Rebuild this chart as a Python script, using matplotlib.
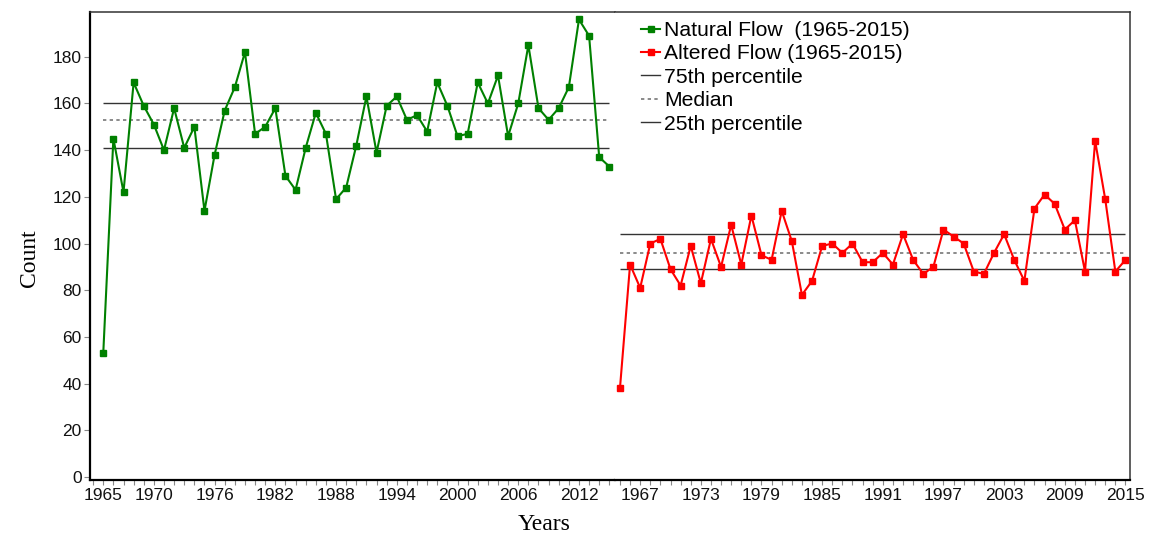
import numpy as np
import matplotlib
matplotlib.use("Agg")
import matplotlib.pyplot as plt
from matplotlib.ticker import FixedLocator, MultipleLocator
from matplotlib.lines import Line2D

plt.rcParams['font.family'] = ['Liberation Sans', 'DejaVu Sans']

years = np.arange(1965, 2016)

natural_flow = [53, 145, 122, 169, 159, 151, 140, 158, 141, 150,
                114, 138, 157, 167, 182, 147, 150, 158, 129, 123,
                141, 156, 147, 119, 124, 142, 163, 139, 159, 163,
                153, 155, 148, 169, 159, 146, 147, 169, 160, 172,
                146, 160, 185, 158, 153, 158, 167, 196, 189, 137,
                133]

altered_flow = [38, 91, 81, 100, 102, 89, 82, 99, 83, 102,
                90, 108, 91, 112, 95, 93, 114, 101, 78, 84,
                99, 100, 96, 100, 92, 92, 96, 91, 104, 93,
                87, 90, 106, 103, 100, 88, 87, 96, 104, 93,
                84, 115, 121, 117, 106, 110, 88, 144, 119, 88,
                93]

# percentile bands (75th, median, 25th)
natural_pct = [160, 153, 141]
altered_pct = [104, 96, 89]

natural_ticks = [1965, 1970, 1976, 1982, 1988, 1994, 2000, 2006, 2012]
altered_ticks = [1967, 1973, 1979, 1985, 1991, 1997, 2003, 2009, 2015]
y_ticks = list(range(0, 181, 20))

W, H = 1153, 551
fig = plt.figure(figsize=(W / 100, H / 100), dpi=100)

x0, xm, x1 = 90, 614.5, 1129.5
ytop, ybot = 12, 480
ax1 = fig.add_axes([x0 / W, 1 - ybot / H, (xm - x0) / W, (ybot - ytop) / H])
ax2 = fig.add_axes([xm / W, 1 - ybot / H, (x1 - xm) / W, (ybot - ytop) / H])

green = '#008000'
red = '#ff0000'
pct_color = '#333333'
med_color = '#777777'
tick_size = 12.5


def panel(ax, values, pct, color, label, xlim, ticks):
    ax.plot(years, values, color=color, lw=1.5, marker='s', ms=4.2,
            mec=color, mfc=color, label=label, zorder=3)
    ax.hlines(pct[0], years[0], years[-1], color=pct_color, lw=1.0, zorder=2)
    ax.hlines(pct[1], years[0], years[-1], color=med_color, lw=1.2,
              linestyles=(0, (2, 2)), zorder=2)
    ax.hlines(pct[2], years[0], years[-1], color=pct_color, lw=1.0, zorder=2)
    ax.set_xlim(*xlim)
    ax.set_ylim(-1.3, 199.2)
    ax.xaxis.set_major_locator(FixedLocator(ticks))
    ax.xaxis.set_minor_locator(MultipleLocator(1))
    ax.tick_params(axis='x', which='both', direction='out', length=3.5,
                   width=0.8, color='#888888', labelsize=tick_size, pad=2,
                   labelcolor='#111111')


panel(ax1, natural_flow, natural_pct, green, 'Natural Flow  (1965-2015)',
      (1963.69, 2015.51), natural_ticks)
panel(ax2, altered_flow, altered_pct, red, 'Altered Flow (1965-2015)',
      (1964.46, 2015.40), altered_ticks)

ax1.set_yticks(y_ticks)
ax1.tick_params(axis='y', direction='out', length=4, width=0.8,
                color='#888888', labelsize=tick_size, pad=2,
                labelcolor='#111111')
ax2.set_yticks([])

for ax in (ax1, ax2):
    ax.spines['bottom'].set_linewidth(1.6)
    ax.spines['bottom'].set_color('black')
    ax.spines['top'].set_linewidth(1.1)
    ax.spines['top'].set_color('#333333')
ax1.spines['left'].set_linewidth(1.6)
ax1.spines['left'].set_color('black')
ax1.spines['right'].set_visible(False)
ax2.spines['left'].set_visible(False)
ax2.spines['right'].set_linewidth(1.1)
ax2.spines['right'].set_color('#333333')

leg_handles = [
    Line2D([], [], color=green, lw=1.5, marker='s', ms=4.2),
    Line2D([], [], color=red, lw=1.5, marker='s', ms=4.2),
    Line2D([], [], color=pct_color, lw=1.0),
    Line2D([], [], color=med_color, lw=1.2, ls=(0, (2, 2))),
    Line2D([], [], color=pct_color, lw=1.0),
]
leg_labels = ['Natural Flow  (1965-2015)', 'Altered Flow (1965-2015)',
              '75th percentile', 'Median', '25th percentile']
fig.legend(leg_handles, leg_labels, loc='upper left',
           bbox_to_anchor=(641 / W, 1 - 21 / H), frameon=False,
           fontsize=15.2, handlelength=0.9, handletextpad=0.2,
           labelspacing=0.21, borderpad=0, borderaxespad=0)

fig.text(30 / W, 1 - 258 / H, 'Count', rotation=90, ha='center', va='center',
         fontsize=17, family=['Liberation Serif', 'DejaVu Serif'])
fig.text(544 / W, 1 - 524 / H, 'Years', ha='center', va='center',
         fontsize=17, family=['Liberation Serif', 'DejaVu Serif'])

fig.savefig('out.png', dpi=100)
